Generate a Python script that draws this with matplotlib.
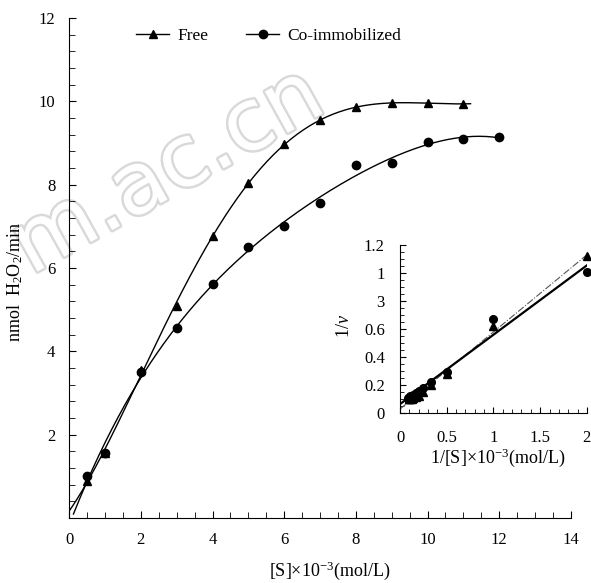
import numpy as np
import matplotlib
matplotlib.use('Agg')
import matplotlib.pyplot as plt
import matplotlib.patheffects as pe
from matplotlib.ticker import MultipleLocator, FixedLocator, FixedFormatter

plt.rcParams['font.family'] = ['Liberation Serif', 'DejaVu Serif']
plt.rcParams['mathtext.fontset'] = 'custom'
plt.rcParams['mathtext.rm'] = 'Liberation Serif'
plt.rcParams['mathtext.it'] = 'Liberation Serif:italic'

# main plot data: substrate conc vs rate
s_free = [0.5, 1, 2, 3, 4, 5, 6, 7, 8, 9, 10, 11]
v_free = [0.9, 1.55, 3.55, 5.1, 6.78, 8.03, 8.97, 9.55, 9.86, 9.96, 9.96, 9.94]
s_co = [0.5, 1, 2, 3, 4, 5, 6, 7, 8, 9, 10, 11, 12]
v_co = [1.02, 1.55, 3.5, 4.57, 5.62, 6.5, 7.0, 7.56, 8.47, 8.52, 9.03, 9.09, 9.14]

# inset (Lineweaver-Burk)
inv_s_free = [2, 1, 0.5, 0.333, 0.25, 0.2, 0.167, 0.143, 0.125, 0.111, 0.1, 0.091]
inv_v_free = [1.12, 0.62, 0.28, 0.2, 0.15, 0.125, 0.112, 0.105, 0.1, 0.1, 0.1, 0.1]
inv_s_co = [2, 1, 0.5, 0.333, 0.25, 0.2, 0.167, 0.143, 0.125, 0.111, 0.1, 0.091, 0.083]
inv_v_co = [1.01, 0.67, 0.29, 0.22, 0.18, 0.155, 0.14, 0.13, 0.12, 0.118, 0.11, 0.11, 0.11]

fig = plt.figure(figsize=(5.91, 5.83), dpi=100)

# watermark behind everything
fig.text(0.285, 0.705, 'm.ac.cn', fontsize=62, rotation=29, color='white',
         family='DejaVu Sans', ha='center', va='center', zorder=0,
         path_effects=[pe.withStroke(linewidth=3.5, foreground='#d9d9d9')])

ax = fig.add_axes([0.117, 0.1115, 0.849, 0.8575])
ax.set_zorder(1)
ax.patch.set_alpha(0)

# trend lines
xf = np.linspace(0, 11.2, 200)
pf = np.polyfit(s_free, v_free, 5)
ax.plot(xf, np.polyval(pf, xf), color='black', lw=1.0)
xc = np.linspace(0.12, 12, 200)
pc = np.polyfit(s_co, v_co, 4)
ax.plot(xc, np.polyval(pc, xc), color='black', lw=1.0)

ax.plot(s_free, v_free, '^', color='black', ms=6)
ax.plot(s_co, v_co, 'o', color='black', ms=6)

ax.set_xlim(0, 14)
ax.set_ylim(0, 12)
ax.xaxis.set_major_locator(MultipleLocator(2))
ax.xaxis.set_minor_locator(MultipleLocator(0.5))
ax.yaxis.set_major_locator(FixedLocator([2, 4, 6, 8, 10, 12]))
ax.yaxis.set_minor_locator(MultipleLocator(0.4))
ax.tick_params(which='both', direction='in', labelsize=12, pad=10)
ax.tick_params(which='major', length=5)
ax.tick_params(which='minor', length=4)
ax.spines['top'].set_visible(False)
ax.spines['right'].set_visible(False)
ax.set_xlabel(r'[S]$\times$10$^{-3}$(mol/L)', fontsize=13)
ax.xaxis.set_label_coords(0.52, -0.082)
ax.set_ylabel(r'nmol  H$_2$O$_2$/min', fontsize=13)
ax.yaxis.set_label_coords(-0.088, 0.472)

ax.legend(handles=[plt.Line2D([], [], color='black', lw=1, marker='^', ms=6),
                   plt.Line2D([], [], color='black', lw=1, marker='o', ms=6)],
          labels=['Free', 'Co-immobilized'], loc='upper left',
          bbox_to_anchor=(0.103, 1.012), ncol=2, frameon=False, fontsize=12.5,
          handlelength=1.9, columnspacing=2.2, handletextpad=0.45)

# inset
ins = fig.add_axes([0.677, 0.2916, 0.316, 0.288])
ins.set_zorder(2)
ins.patch.set_alpha(0)
lx = np.linspace(0, 2, 50)
lf = np.polyfit(inv_s_free, inv_v_free, 1)
lc = np.polyfit(inv_s_co, inv_v_co, 1)
ins.plot(lx, np.polyval(lf, lx), color='#555555', lw=0.8, ls='-.')
ins.plot(lx, np.polyval(lc, lx), color='black', lw=1.6)
ins.plot(inv_s_free, inv_v_free, '^', color='black', ms=5.5, clip_on=False)
ins.plot(inv_s_co, inv_v_co, 'o', color='black', ms=5.5, clip_on=False)
ins.set_xlim(0, 2)
ins.set_ylim(0, 1.2)
ins.xaxis.set_major_locator(FixedLocator([0, 0.5, 1, 1.5, 2]))
ins.xaxis.set_major_formatter(FixedFormatter(['0', '0.5', '1', '1.5', '2']))
ins.xaxis.set_minor_locator(MultipleLocator(0.1))
ins.yaxis.set_major_locator(FixedLocator([0, 0.2, 0.4, 0.6, 0.8, 1.0, 1.2]))
ins.yaxis.set_major_formatter(FixedFormatter(['0', '0.2', '0.4', '0.6', '3', '1', '1.2']))
ins.yaxis.set_minor_locator(MultipleLocator(0.05))
ins.tick_params(which='both', direction='in', labelsize=12)
ins.tick_params(axis='x', which='both', pad=12)
ins.tick_params(axis='y', which='both', pad=11)
ins.tick_params(which='major', length=4)
ins.tick_params(which='minor', length=3)
ins.spines['top'].set_visible(False)
ins.spines['right'].set_visible(False)
ins.set_xlabel(r'1/[S]$\times$10$^{-3}$(mol/L)', fontsize=13)
ins.xaxis.set_label_coords(0.52, -0.2)
ins.set_ylabel(r'1/$\mathit{v}$', fontsize=13)
ins.yaxis.set_label_coords(-0.25, 0.52)

fig.savefig('out.png', dpi=100)
